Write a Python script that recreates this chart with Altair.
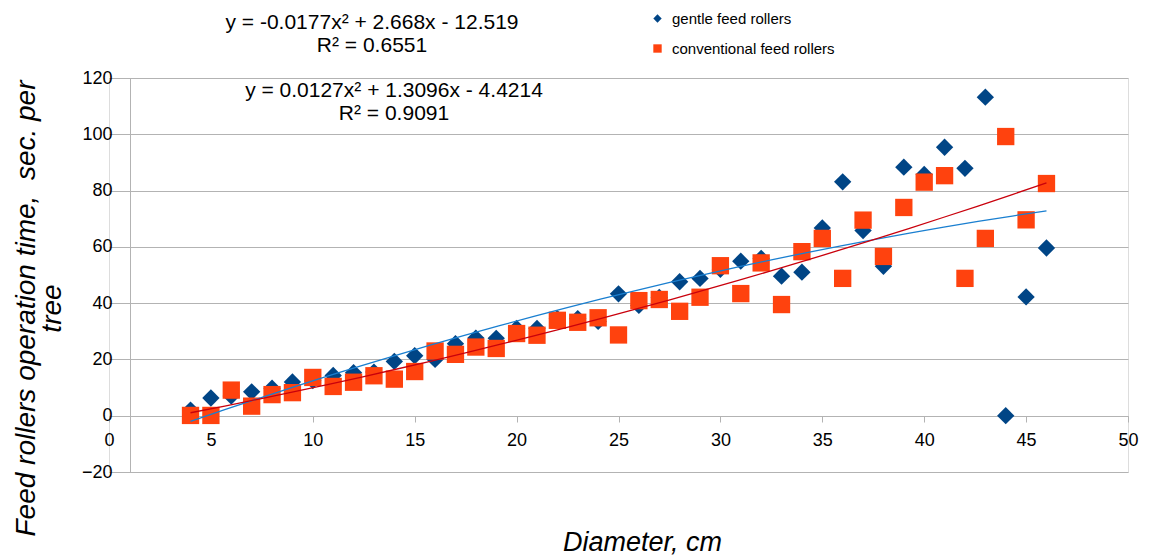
import altair as alt
import pandas as pd

diameters = list(range(4, 47))
gentle = [2, 6.3, 7, 8.5, 9.8, 12, 12.5, 14.3, 15.3, 15.5, 19.3, 21.3, 20, 25.6, 27.6, 27.5,
          31, 31, 34.5, 34.5, 33.5, 43.3, 39.2, 42, 47.6, 48.8, 52, 54.9, 55.9, 49.6, 51,
          66.7, 83.1, 65.8, 53.1, 88.3, 85.7, 95.4, 87.9, 113.2, 0, 42.2, 59.6]
conventional = [0.1, 0.1, 9.1, 3.4, 7.5, 8.2, 13.6, 10.4, 11.9, 14.2, 13, 15.7, 23, 21.8, 24.4, 23.9,
                29.2, 28.6, 33.9, 33.2, 34.8, 28.7, 40.9, 41.3, 37.1, 42.1, 53.3, 43.4, 54.3, 39.5, 58.3,
                63, 48.8, 69.5, 56.6, 74, 83, 85.3, 48.8, 63, 99.2, 69.6, 82.5]
series_names = ["gentle feed rollers", "conventional feed rollers"]
point_colors = ["#004586", "#ff420e"]
line_colors = ["#1a7fd0", "#c9000c"]
point_shapes = ["diamond", "square"]
equations = ["y = -0.0177x² + 2.668x - 12.519", "R² = 0.6551",
             "y = 0.0127x² + 1.3096x - 4.4214", "R² = 0.9091"]
y_title = ["Feed rollers operation time,\u00a0 sec. per", "tree"]
x_title = "Diameter, cm"
x_ticks = list(range(0, 51, 5))
y_ticks = list(range(-20, 121, 20))

df = pd.DataFrame({
    "Diameter": diameters + diameters,
    "Time": gentle + conventional,
    "series": [series_names[0]] * len(diameters) + [series_names[1]] * len(diameters),
})

FONT = "Liberation Sans"

x_enc = alt.X("Diameter:Q", scale=alt.Scale(domain=[0, 50], nice=False, zero=False),
              axis=alt.Axis(values=x_ticks, title=x_title, grid=False, offset=-56,
                            tickSize=6, tickColor="#b3b3b3", domainColor="#b3b3b3",
                            labelFlush=False, labelFontSize=18, labelColor="black", labelFont=FONT,
                            labelPadding=9, titleFont=FONT, titleFontSize=27, titleFontStyle="italic",
                            titleFontWeight="normal", titleColor="black", titleX=533, titleY=134,
                            titleBaseline="alphabetic", titleAlign="center"))
y_enc = alt.Y("Time:Q", scale=alt.Scale(domain=[-20, 120], nice=False, zero=False),
              axis=alt.Axis(values=y_ticks, title=y_title,
                            grid=True, gridColor="#b3b3b3", gridWidth=1, offset=-21,
                            tickSize=17, tickColor="#b3b3b3", domainColor="#b3b3b3",
                            labelFontSize=18, labelColor="black", labelFont=FONT, labelPadding=1,
                            titleFont=FONT, titleFontSize=28, titleFontStyle="italic",
                            titleFontWeight="normal", titleColor="black", titleX=-104, titleY=230,
                            titleAngle=270, titleAlign="center", titleBaseline="middle",
                            titleLineHeight=26))

legend = alt.Legend(title=None, orient="none", legendX=541, legendY=-67,
                    labelFont=FONT, labelFontSize=15, labelColor="black", labelLimit=400,
                    symbolSize=70, rowPadding=14, labelOffset=7, padding=0,
                    symbolStrokeWidth=0)

points = alt.Chart(df).mark_point(filled=True, opacity=1, size=300).encode(
    x=x_enc, y=y_enc,
    color=alt.Color("series:N", scale=alt.Scale(domain=series_names, range=point_colors),
                    legend=legend),
    shape=alt.Shape("series:N", scale=alt.Scale(domain=series_names, range=point_shapes),
                    legend=legend),
)

lines = alt.Chart(df).transform_regression(
    "Diameter", "Time", groupby=["series"], method="poly", order=2, extent=[4, 46]
).mark_line(strokeWidth=1.3).encode(
    x="Diameter:Q", y="Time:Q",
    stroke=alt.Stroke("series:N", scale=alt.Scale(domain=series_names, range=line_colors),
                      legend=None),
)


def eq_text(txt, cx, cy):
    return alt.Chart(pd.DataFrame({"label": [txt]})).mark_text(
        font=FONT, fontSize=21, color="black", align="center", baseline="middle"
    ).encode(x=alt.value(cx), y=alt.value(cy), text="label:N")


texts = [eq_text(equations[0], 263, -55), eq_text(equations[1], 263, -32),
         eq_text(equations[2], 285, 13), eq_text(equations[3], 285, 36)]

chart = alt.layer(points, lines, *texts).properties(
    width=1019, height=394,
    autosize=alt.AutoSizeParams(type="none"),
    padding={"left": 101, "top": 70, "right": 12, "bottom": 84},
).configure_view(stroke=None).configure(background="white")

chart.save("out.html", embed_options={"renderer": "svg", "actions": False})
